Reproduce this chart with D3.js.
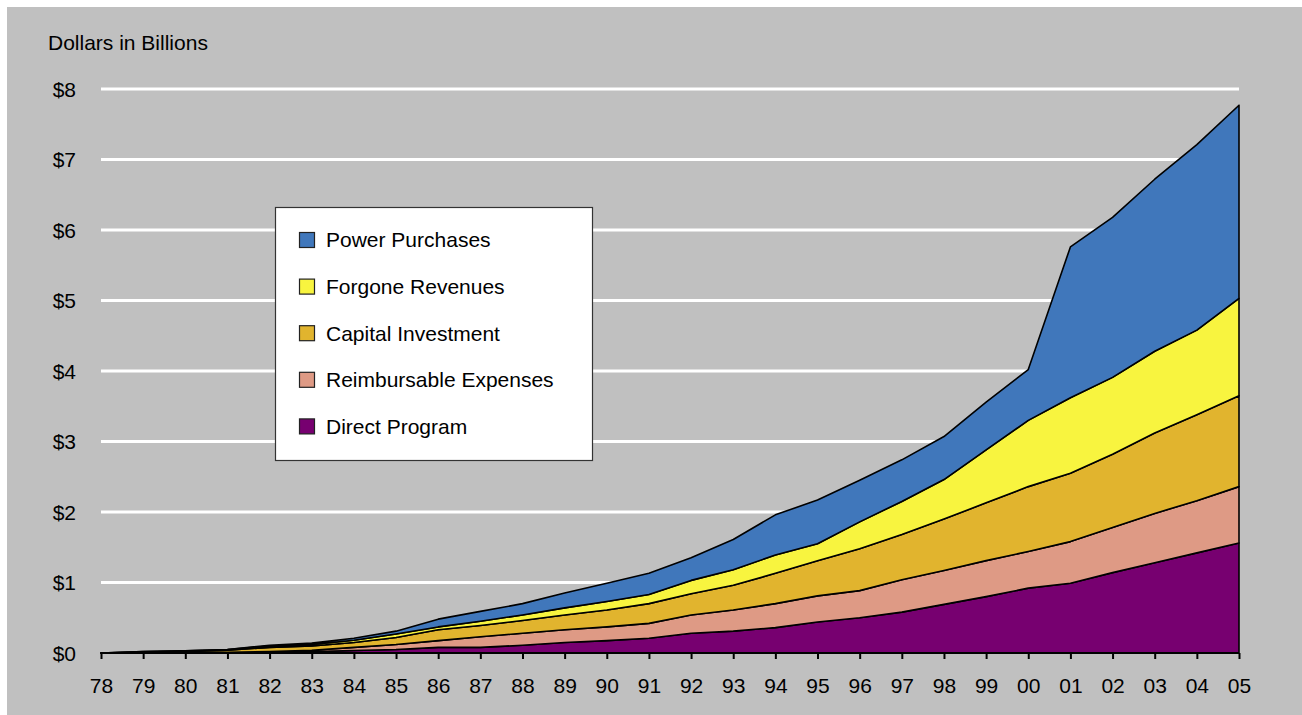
<!DOCTYPE html>
<html><head><meta charset="utf-8">
<script src="https://cdn.jsdelivr.net/npm/d3@7"></script>
<style>html,body{margin:0;padding:0;background:#fff;}svg{display:block;font-family:"Liberation Sans",Arial,sans-serif;}</style>
</head><body>
<svg id="c" width="1302" height="715"></svg>
<script>
const years = ["78","79","80","81","82","83","84","85","86","87","88","89","90","91","92","93","94","95","96","97","98","99","00","01","02","03","04","05"];
const directProgram = [0,0,0,0.005,0.01,0.02,0.035,0.05,0.08,0.08,0.11,0.15,0.175,0.21,0.28,0.31,0.36,0.44,0.50,0.58,0.69,0.80,0.92,0.99,1.14,1.28,1.42,1.56];
const reimbursableExpenses = [0,0,0.005,0.005,0.01,0.02,0.045,0.07,0.095,0.15,0.17,0.18,0.195,0.21,0.26,0.30,0.34,0.37,0.385,0.46,0.48,0.51,0.52,0.59,0.64,0.70,0.74,0.80];
const capitalInvestment = [0,0.015,0.02,0.03,0.06,0.06,0.07,0.10,0.155,0.16,0.18,0.21,0.24,0.28,0.30,0.35,0.43,0.50,0.595,0.64,0.73,0.82,0.92,0.97,1.04,1.14,1.22,1.29];
const forgoneRevenues = [0,0.005,0.005,0.01,0.02,0.02,0.03,0.05,0.04,0.06,0.08,0.10,0.12,0.13,0.19,0.22,0.26,0.24,0.38,0.47,0.56,0.75,0.94,1.07,1.09,1.16,1.20,1.38];
const powerPurchases = [0,0,0,0,0.01,0.02,0.03,0.04,0.11,0.14,0.16,0.21,0.26,0.30,0.32,0.43,0.57,0.62,0.59,0.59,0.61,0.68,0.72,2.14,2.27,2.44,2.63,2.74];
const seriesNames = ["Direct Program","Reimbursable Expenses","Capital Investment","Forgone Revenues","Power Purchases"];
const seriesColors = ["#770070","#DE9A85","#E1B42E","#F8F43F","#4077BB"];
const yTicks = [0,1,2,3,4,5,6,7,8];
const yTickLabels = ["$0","$1","$2","$3","$4","$5","$6","$7","$8"];

const seriesData = [directProgram, reimbursableExpenses, capitalInvestment, forgoneRevenues, powerPurchases];
const keys = ["d","r","c","f","p"];
const table = years.map((y,i)=>{const o={year:y}; keys.forEach((k,j)=>o[k]=seriesData[j][i]); return o;});

const FS = 21;
const svg = d3.select("#c");
svg.append("rect").attr("x",7).attr("y",7).attr("width",1295).attr("height",708).attr("fill","#C0C0C0");

const x = d3.scalePoint().domain(years).range([101,1239]);
const y = d3.scaleLinear().domain([0,8]).range([653,89]);

// gridlines
svg.append("g").selectAll("line").data(yTicks.filter(d=>d>0)).join("line")
  .attr("x1",101).attr("x2",1239).attr("y1",d=>y(d)).attr("y2",d=>y(d))
  .attr("stroke","#fff").attr("stroke-width",3);

// y labels
svg.append("g").selectAll("text").data(yTicks).join("text")
  .attr("x",76).attr("y",d=>y(d)).attr("dy","0.36em").attr("text-anchor","end")
  .attr("font-size",FS).attr("fill","#000").text((d,i)=>yTickLabels[i]);

svg.append("text").attr("x",48).attr("y",50).attr("font-size",FS).attr("fill","#000").text("Dollars in Billions");

const stack = d3.stack().keys(keys);
const stacked = stack(table);
const area = d3.area().x(d=>x(d.data.year)).y0(d=>y(d[0])).y1(d=>y(d[1]));
svg.append("g").selectAll("path").data(stacked).join("path")
  .attr("d",area).attr("fill",(d,i)=>seriesColors[i])
  .attr("stroke","#000").attr("stroke-width",1.6).attr("stroke-linejoin","round");

// x axis
const xAxis = d3.axisBottom(x).tickSize(6);
const gx = svg.append("g").attr("transform","translate(0,653)").call(xAxis);
gx.select(".domain").attr("stroke","#000").attr("stroke-width",2).attr("d","M101,0H1239");
gx.selectAll(".tick line").attr("stroke","#000").attr("stroke-width",2);
gx.selectAll(".tick text").attr("font-size",FS).attr("fill","#000")
  .attr("font-family","Liberation Sans, Arial, sans-serif").attr("y",40).attr("dy",0);

// legend
const lg = svg.append("g");
lg.append("rect").attr("x",275.5).attr("y",207.5).attr("width",317).attr("height",253)
  .attr("fill","#fff").attr("stroke","#333").attr("stroke-width",1.2);
const legendOrder = [4,3,2,1,0];
legendOrder.forEach((si,row)=>{
  const cy = 240 + row*46.6;
  lg.append("rect").attr("x",299.5).attr("y",cy-7.5).attr("width",15).attr("height",15)
    .attr("fill",seriesColors[si]).attr("stroke","#222").attr("stroke-width",1.2);
  lg.append("text").attr("x",326).attr("y",cy).attr("dy","0.35em").attr("font-size",FS)
    .attr("fill","#000").text(seriesNames[si]);
});
</script>
</body></html>
